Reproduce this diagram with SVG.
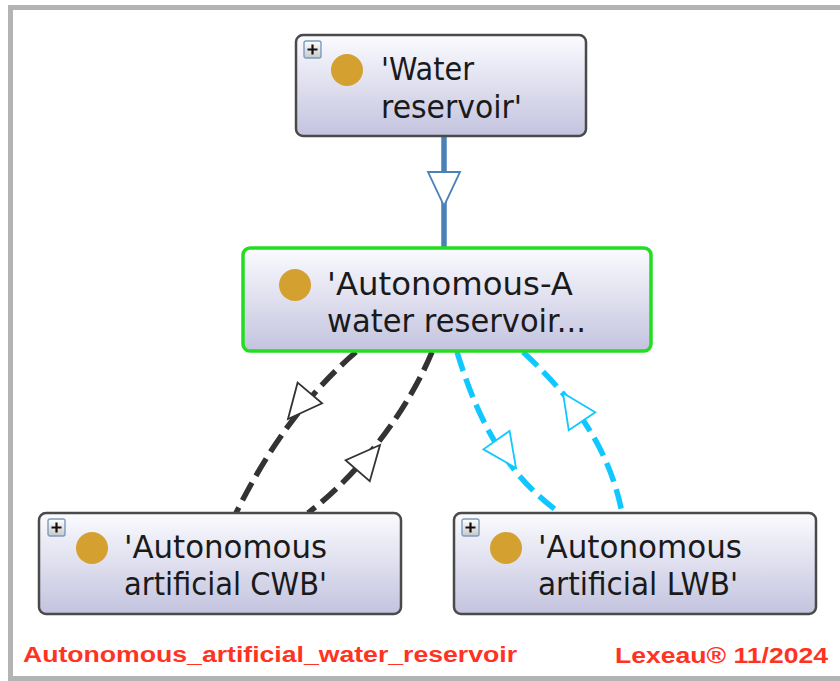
<svg xmlns="http://www.w3.org/2000/svg" xmlns:xlink="http://www.w3.org/1999/xlink" width="840" height="681" viewBox="0 0 840 681">
<style>
.node{stroke:#4a4a4a;stroke-width:2.5;fill:url(#ng)}
.sel{stroke:#22dd22;stroke-width:3.5;fill:url(#ng)}
.dot{fill:#d4a030}
.lbl{font-family:"DejaVu Sans","Liberation Sans",sans-serif;font-size:32px;fill:#1a1a1a}
.plus{fill:url(#pg);stroke:#7a9cc0;stroke-width:1.4}
.pm{stroke:#111;stroke-width:2.2}
.gen{fill:none;stroke-width:5.5}
.blue{stroke:#4a82b8}
.dark{stroke:#333333}
.cyan{stroke:#10c8ff}
.dash{stroke-dasharray:20 8}
.tri{fill:#ffffff;stroke-width:1.8}
.foot{font-family:"Liberation Sans",Arial,sans-serif;font-weight:bold;font-size:22px;fill:#ff3322}
</style>
<defs>
<linearGradient id="ng" x1="0" y1="0" x2="0" y2="1">
<stop offset="0" stop-color="#fbfbff"/>
<stop offset="1" stop-color="#c3c3df"/>
</linearGradient>
<linearGradient id="pg" x1="0" y1="0" x2="0" y2="1">
<stop offset="0" stop-color="#ffffff"/>
<stop offset="1" stop-color="#c8c8c8"/>
</linearGradient>
<polygon id="tri" points="0,0 -34,-16 -34,16"/>
<g id="plus"><rect class="plus" x="0" y="0" width="17" height="17" rx="2"/><path class="pm" d="M3.5,8.5H13.5M8.5,3.5V13.5"/></g>
</defs>
<rect x="0" y="0" width="840" height="681" fill="#ffffff"/>
<rect x="10.5" y="7.5" width="840" height="671" fill="none" stroke="#b3b3b3" stroke-width="5"/>

<g id="connectors">
<path class="gen blue" d="M444,136V247"/>
<use xlink:href="#tri" class="tri blue" transform="translate(444,206) rotate(90)"/>
<path class="gen dark dash" d="M356,352Q286,412 236,513"/>
<use xlink:href="#tri" class="tri dark" transform="translate(288,419) rotate(130)"/>
<path class="gen dark dash" d="M432,352C412,400 370,465 308,513"/>
<use xlink:href="#tri" class="tri dark" transform="translate(380,445) rotate(-49)"/>
<path class="gen cyan dash" d="M457,352C475,410 500,470 560,513"/>
<use xlink:href="#tri" class="tri cyan" transform="translate(516,468) rotate(55)"/>
<path class="gen cyan dash" d="M523,352C575,400 610,450 622,513"/>
<use xlink:href="#tri" class="tri cyan" transform="translate(563,393) rotate(-124)"/>
</g>

<g id="water-reservoir">
<rect class="node" x="296" y="35" width="290" height="101" rx="7"/>
<use xlink:href="#plus" x="304" y="41"/>
<circle class="dot" cx="347" cy="70" r="16"/>
<text class="lbl" x="381" y="80" textLength="93" lengthAdjust="spacingAndGlyphs">'Water</text>
<text class="lbl" x="381" y="118" textLength="141" lengthAdjust="spacingAndGlyphs">reservoir'</text>
</g>

<g id="autonomous-a">
<rect class="sel" x="243" y="248" width="408" height="103" rx="7"/>
<circle class="dot" cx="295" cy="285" r="16"/>
<text class="lbl" x="327" y="295" textLength="246" lengthAdjust="spacingAndGlyphs">'Autonomous-A</text>
<text class="lbl" x="327" y="332" textLength="259" lengthAdjust="spacingAndGlyphs">water reservoir...</text>
</g>

<g id="cwb">
<rect class="node" x="39" y="513" width="362" height="101" rx="7"/>
<use xlink:href="#plus" x="48" y="519"/>
<circle class="dot" cx="92" cy="548" r="16"/>
<text class="lbl" x="124" y="558" textLength="203" lengthAdjust="spacingAndGlyphs">'Autonomous</text>
<text class="lbl" x="124" y="595" textLength="203" lengthAdjust="spacingAndGlyphs">artificial CWB'</text>
</g>

<g id="lwb">
<rect class="node" x="454" y="513" width="362" height="101" rx="7"/>
<use xlink:href="#plus" x="462" y="519"/>
<circle class="dot" cx="506" cy="548" r="16"/>
<text class="lbl" x="538" y="558" textLength="204" lengthAdjust="spacingAndGlyphs">'Autonomous</text>
<text class="lbl" x="538" y="595" textLength="200" lengthAdjust="spacingAndGlyphs">artificial LWB'</text>
</g>

<text class="foot" x="23" y="662" textLength="494" lengthAdjust="spacingAndGlyphs">Autonomous_artificial_water_reservoir</text>
<text class="foot" x="615" y="663" textLength="213" lengthAdjust="spacingAndGlyphs">Lexeau® 11/2024</text>
</svg>
